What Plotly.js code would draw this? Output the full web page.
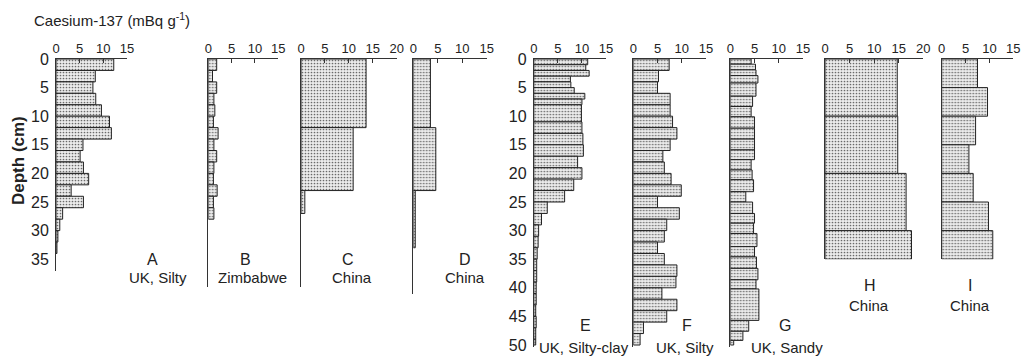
<!DOCTYPE html>
<html><head><meta charset="utf-8">
<script src="https://cdn.plot.ly/plotly-3.0.1.min.js"></script>
<style>html,body{margin:0;padding:0;background:#fff}#chart{width:1021px;height:362px}</style>
</head><body><div id="chart"></div>
<script>
// ---- data: layer boundaries (cm) and Caesium-137 activity (mBq g-1) ----
const A_depth = [0,2,4,6,8,10,12,14,16,18,20,22,24,26,28,30,32,34];
const A_cs    = [12.2,8.3,7.8,8.4,9.6,11.3,11.7,5.7,5.1,5.8,6.9,3.2,5.8,1.4,0.8,0.4,0.2];
const B_depth = [0,2,4,6,8,10,12,14,16,18,20,22,24,26,28];
const B_cs    = [1.8,0.9,1.8,1.2,1.4,1.1,2.1,1.2,1.8,1.2,1.1,1.9,1.1,1.2];
const C_depth = [0,12,23,27];
const C_cs    = [13.6,10.9,0.8];
const D_depth = [0,12,23,33];
const D_cs    = [3.5,4.6,0.4];
const E_depth = [0,1,2,3,4,5,6,7,8,11,13,15,17,19,21,23,25,27,29,31,33,35,37,39,41,43,45,47,49,50];
const E_cs    = [11.2,10.8,11.5,7.6,7.7,8.4,10.6,10.0,9.9,10.0,10.2,10.3,9.1,10.0,8.3,6.4,2.8,1.6,1.0,0.9,0.7,0.6,0.6,0.5,0.5,0.4,0.5,0.4,0.4];
const F_depth = [0,2,4,6,8,10,12,14,16,18,20,22,24,26,28,30,32,34,36,38,40,42,44,46,48,50];
const F_cs    = [7.4,5.2,5.0,7.6,7.6,8.1,9.0,7.6,6.1,6.4,7.8,9.9,5.0,9.5,6.9,6.4,5.0,6.4,9.0,8.8,5.9,9.0,6.9,2.1,1.4];
const G_depth = [0,0.9,1.9,2.9,4.2,6.5,8.3,10.1,12.1,14,15.9,17.6,19.4,21.1,23.2,25,27,28.7,30.5,32.8,34.6,36.6,38.6,40.2,45.7,47.6,49.2,50];
const G_cs    = [4.3,5.2,5.3,5.7,5.3,4.6,4.3,5.0,5.0,5.0,5.0,4.3,4.5,4.8,3.2,4.6,5.0,4.8,5.5,5.0,5.4,5.7,5.3,5.9,3.8,2.6,0.7];
const H_depth = [0,10,20,30,35];
const H_cs    = [14.7,14.8,16.5,17.6];
const I_depth = [0,5,10,15,20,25,30,35];
const I_cs    = [7.5,9.6,7.1,5.7,6.6,9.8,10.7];

const panelLetters = ['A','B','C','D','E','F','G','H','I'];
const siteNames = ['UK, Silty','Zimbabwe','China','China','UK, Silty-clay','UK, Silty','UK, Sandy','China','China'];
const xTicks15 = [0,5,10,15];
const xTicks20 = [0,5,10,15,20];
const depthTicksLeft = [0,5,10,15,20,25,30,35];
const depthTicksRight = [0,5,10,15,20,25,30,35,40,45,50];
const titleText = 'Caesium-137 (mBq g<sup>-1</sup>)';
const depthTitle = 'Depth (cm)';

const depths = [A_depth,B_depth,C_depth,D_depth,E_depth,F_depth,G_depth,H_depth,I_depth];
const values = [A_cs,B_cs,C_cs,D_cs,E_cs,F_cs,G_cs,H_cs,I_cs];

// ---- layout geometry (pixels) ----
const W = 1021, H = 362, Y0 = 59, PXCM = 5.72;
const geo = [
  {x0:56,   x1:127,   xmax:15, ext:37,   yt:depthTicksLeft,  lab:[152,259,158,277]},
  {x0:208.3,x1:278.3, xmax:15, ext:39.8, yt:null,            lab:[245,259,252,277]},
  {x0:301,  x1:396.7, xmax:20, ext:39.8, yt:null,            lab:[348,259,352,277]},
  {x0:413.3,x1:486.7, xmax:15, ext:41,   yt:null,            lab:[465,259,465,277]},
  {x0:533.8,x1:606,   xmax:15, ext:50.3, yt:depthTicksRight, lab:[585,325,584,347]},
  {x0:633.3,x1:706,   xmax:15, ext:50.3, yt:null,            lab:[687,325,685,347]},
  {x0:730.3,x1:803,   xmax:15, ext:50.3, yt:null,            lab:[785,325,787,347]},
  {x0:825,  x1:923.3, xmax:20, ext:35,   yt:null,            lab:[870,285,869,305]},
  {x0:941.7,x1:1013.3,xmax:15, ext:35,   yt:null,            lab:[970,285,970,305]}
];
const FONT = 'Liberation Sans, Arial, Helvetica, sans-serif';
const INK = '#222';

const traces = [];
const layout = {
  width: W, height: H, margin:{l:0,r:0,t:0,b:0},
  paper_bgcolor:'#fff', plot_bgcolor:'rgba(0,0,0,0)',
  showlegend:false, font:{family:FONT, color:INK},
  annotations:[]
};

geo.forEach((g,i) => {
  const n = i === 0 ? '' : String(i+1);
  const d = depths[i];
  const mids = d.slice(0,-1).map((v,j) => (v + d[j+1]) / 2);
  const widths = d.slice(0,-1).map((v,j) => d[j+1] - v);
  traces.push({
    type:'bar', orientation:'h', x: values[i], y: mids, width: widths, base: 0,
    xaxis:'x'+n, yaxis:'y'+n, hoverinfo:'skip',
    marker:{color:'#e4e4e4',
            pattern:{shape:'.', fgcolor:'#6a6a6a', bgcolor:'#ececec', size:3, solidity:0.25},
            line:{color:'#222', width:1}}
  });
  layout['xaxis'+n] = {
    domain:[g.x0/W, g.x1/W], range:[0,g.xmax], anchor:'y'+n, side:'top',
    showline:true, linecolor:'#333', linewidth:1, mirror:false,
    ticks:'inside', ticklen:4, tickcolor:'#333', tickwidth:1,
    tickvals: g.xmax === 20 ? xTicks20 : xTicks15,
    showgrid:false, zeroline:false, fixedrange:true,
    tickfont:{size:13, family:FONT, color:INK}
  };
  const yb = Y0 + g.ext*PXCM;
  layout['yaxis'+n] = {
    domain:[1 - yb/H, 1 - Y0/H], range:[g.ext, 0], anchor:'x'+n,
    showline:true, linecolor:'#333', linewidth:1,
    ticks:'', showgrid:false, zeroline:false, fixedrange:true,
    showticklabels: !!g.yt, tickvals: g.yt || [], ticklabelstandoff:3,
    tickfont:{size:16, family:FONT, color:INK}
  };
  layout.annotations.push({xref:'paper', yref:'paper', x:g.lab[0]/W, y:1-g.lab[1]/H,
    text:panelLetters[i], showarrow:false, xanchor:'center', yanchor:'middle',
    font:{size:16, family:FONT, color:INK}});
  layout.annotations.push({xref:'paper', yref:'paper', x:g.lab[2]/W, y:1-g.lab[3]/H,
    text:siteNames[i], showarrow:false, xanchor:'center', yanchor:'middle',
    font:{size:15, family:FONT, color:INK}});
});

layout.annotations.push({xref:'paper', yref:'paper', x:32/W, y:1-20/H, text:titleText,
  showarrow:false, xanchor:'left', yanchor:'middle', font:{size:15, family:FONT, color:INK}});
layout.annotations.push({xref:'paper', yref:'paper', x:19/W, y:1-161/H, text:'<b>'+depthTitle+'</b>',
  textangle:-90, showarrow:false, xanchor:'center', yanchor:'middle', font:{size:17, family:FONT, color:INK}});

Plotly.newPlot('chart', traces, layout, {staticPlot:true, displayModeBar:false});
</script></body></html>
